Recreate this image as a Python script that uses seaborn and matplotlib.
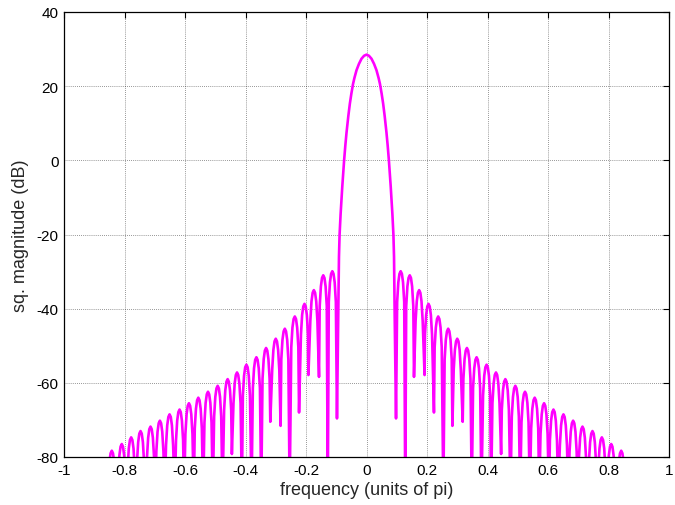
import matplotlib
matplotlib.use("Agg")
import matplotlib.pyplot as plt
import seaborn as sns
import pandas as pd

# ---------------- data (positive-frequency half; the plot is symmetric) ----
# main lobe (right half), frequency in units of pi, level in dB
mainlobe_freq = [0.0, 0.008, 0.0165, 0.025, 0.033, 0.040, 0.0445, 0.050, 0.055, 0.060,
                 0.066, 0.070, 0.074, 0.080, 0.0856, 0.089, 0.091, 0.0932, 0.0955]
mainlobe_db = [28.5, 28.2, 27.4, 26.0, 24.3, 22.2, 20.6, 18.0, 15.3, 12.0,
               7.5, 4.0, 0.0, -7.0, -14.5, -20.1, -26.0, -42.3, -55.7]

# side-lobe peaks (right half)
sidelobe_freq = [0.113, 0.143, 0.174, 0.205, 0.237, 0.270, 0.300, 0.332, 0.364, 0.397,
                 0.428, 0.459, 0.492, 0.524, 0.556, 0.587, 0.618, 0.651, 0.683, 0.714,
                 0.747, 0.778, 0.809, 0.842]
sidelobe_db = [-29.9, -31.0, -35.0, -38.7, -42.1, -45.4, -48.1, -50.6, -53.1, -55.1,
               -57.2, -59.0, -60.8, -62.4, -64.0, -65.5, -67.2, -68.5, -70.2, -71.8,
               -73.0, -74.7, -76.5, -78.3]

# nulls following the main lobe and each side lobe (right half); -90 = below the axis floor
null_freq = [0.0976, 0.128, 0.157, 0.192, 0.223, 0.254, 0.284, 0.318, 0.348, 0.380,
             0.412, 0.445, 0.476, 0.508, 0.540, 0.571, 0.603, 0.634, 0.667, 0.698,
             0.730, 0.762, 0.794, 0.826, 0.858]
null_db = [-69.6, -90.0, -58.4, -57.9, -68.0, -90.0, -71.6, -70.5, -90.0, -90.0,
           -90.0, -79.2, -90.0, -90.0, -90.0, -90.0, -90.0, -90.0, -90.0, -90.0,
           -90.0, -90.0, -90.0, -90.0, -90.0]

# shape of a side-lobe top as read from the zoom: offset from the peak and drop below it
lobe_cap_offset = [0.0117, 0.0078, 0.004]
lobe_cap_drop = [8.3, 3.0, 0.7]

xtick_vals = [-1, -0.8, -0.6, -0.4, -0.2, 0, 0.2, 0.4, 0.6, 0.8, 1]
xtick_labels = ["-1", "-0.8", "-0.6", "-0.4", "-0.2", "0", "0.2", "0.4", "0.6", "0.8", "1"]
ytick_vals = [-80, -60, -40, -20, 0, 20, 40]
ytick_labels = ["-80", "-60", "-40", "-20", "0", "20", "40"]

# ---------------- assemble the curve table ----------------
half_f = list(mainlobe_freq)
half_d = list(mainlobe_db)
half_f.append(null_freq[0]); half_d.append(null_db[0])
for i, (pf, pd_) in enumerate(zip(sidelobe_freq, sidelobe_db)):
    for off, drop in zip(lobe_cap_offset, lobe_cap_drop):
        half_f.append(pf - off); half_d.append(pd_ - drop)
    half_f.append(pf); half_d.append(pd_)
    for off, drop in zip(lobe_cap_offset[::-1], lobe_cap_drop[::-1]):
        half_f.append(pf + off); half_d.append(pd_ - drop)
    half_f.append(null_freq[i + 1]); half_d.append(null_db[i + 1])

full_f = [-f for f in half_f[:0:-1]] + half_f
full_d = half_d[:0:-1] + half_d
df = pd.DataFrame({"freq": full_f, "db": full_d})

# ---------------- plotting ----------------
sns.set_style("white")
plt.rcParams["font.family"] = ["Liberation Sans", "DejaVu Sans"]

fig = plt.figure(figsize=(6.75, 5.06), dpi=100)
ax = fig.add_axes([64 / 675, (506 - 458) / 506, (669 - 64) / 675, (458 - 13) / 506])

sns.lineplot(data=df, x="freq", y="db", sort=False, estimator=None,
             color="#FF00FF", linewidth=1.9, ax=ax)

ax.set_xlim(-1, 1)
ax.set_ylim(-80, 40)
ax.set_xticks(xtick_vals)
ax.set_xticklabels(xtick_labels)
ax.set_yticks(ytick_vals)
ax.set_yticklabels(ytick_labels)
ax.set_xlabel("frequency (units of pi)", fontsize=13, labelpad=3)
ax.set_ylabel("sq. magnitude (dB)", fontsize=13, labelpad=5)
ax.tick_params(axis="both", direction="in", length=4, width=0.8, labelsize=11,
               top=True, right=True, colors="black", pad=4)
ax.grid(True, color="black", linestyle=(0, (1, 1.5)), linewidth=0.6, alpha=0.55)
for sp in ax.spines.values():
    sp.set_color("black")
    sp.set_linewidth(0.9)

fig.savefig("out.png", dpi=100)
